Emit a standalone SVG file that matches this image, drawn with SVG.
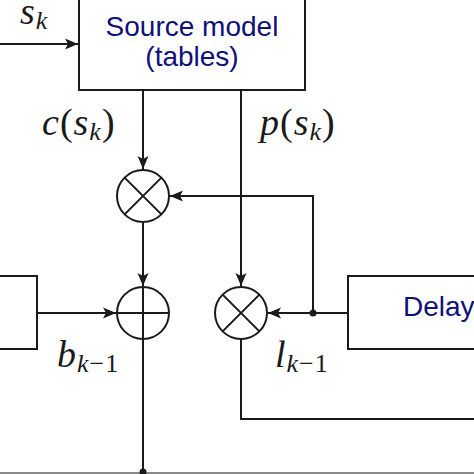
<svg xmlns="http://www.w3.org/2000/svg" width="474" height="474" viewBox="0 0 474 474">
<style>
.ln{fill:none;stroke:#1a1a1a;stroke-width:2}
.nd{fill:#fff;stroke:#1a1a1a;stroke-width:2}
.lbl{font-family:"Liberation Sans","DejaVu Sans",sans-serif;font-size:28px;fill:#10107a}
.m{font-family:"Liberation Serif","DejaVu Serif",serif;font-style:italic;font-size:38px;fill:#1a1a1a;letter-spacing:1px}
.s{font-size:26px}
.up{font-style:normal}
</style>
<defs>
<marker id="ah" markerUnits="userSpaceOnUse" markerWidth="15" markerHeight="12" viewBox="-14 -6 15 12" refX="0" refY="0" orient="auto">
<path d="M0,0 L-13,-5.5 L-10,0 L-13,5.5 Z" fill="#1a1a1a"/>
</marker>
</defs>
<rect width="474" height="474" fill="#fff"/>
<g id="connectors">
<path class="ln" d="M0,44 H78" marker-end="url(#ah)"/>
<path class="ln" d="M143,90 V169" marker-end="url(#ah)"/>
<path class="ln" d="M241,90 V286" marker-end="url(#ah)"/>
<path class="ln" d="M313,313 V196 H170" marker-end="url(#ah)"/>
<path class="ln" d="M348,313 H268" marker-end="url(#ah)"/>
<path class="ln" d="M37,313 H116" marker-end="url(#ah)"/>
<path class="ln" d="M143,223 V286" marker-end="url(#ah)"/>
<path class="ln" d="M143,339 V474"/>
<path class="ln" d="M241,339 V419 H474"/>
<path d="M0,473 H474" stroke="#8a8a8a" stroke-width="2"/>
<circle cx="313" cy="313" r="3.5" fill="#1a1a1a"/>
<circle cx="143" cy="472" r="3.5" fill="#1a1a1a"/>
</g>
<g id="source-model">
<rect class="nd" x="79" y="-10" width="226" height="100"/>
<text class="lbl" x="192" y="36" text-anchor="middle">Source model</text>
<text class="lbl" x="192" y="66" text-anchor="middle">(tables)</text>
</g>
<g id="delay">
<rect class="nd" x="348" y="276" width="140" height="73"/>
<text class="lbl" x="403" y="316">Delay</text>
</g>
<g id="left-box">
<rect class="nd" x="-20" y="276" width="57" height="73"/>
</g>
<g id="mult-top">
<circle class="nd" cx="143" cy="196" r="26"/>
<path class="ln" d="M124.6,177.6 L161.4,214.4 M161.4,177.6 L124.6,214.4"/>
</g>
<g id="adder">
<circle class="nd" cx="143" cy="313" r="26"/>
<path class="ln" d="M143,287 V339 M117,313 H169"/>
</g>
<g id="mult-bottom">
<circle class="nd" cx="241" cy="313" r="26"/>
<path class="ln" d="M222.6,294.6 L259.4,331.4 M259.4,294.6 L222.6,331.4"/>
</g>
<g id="labels">
<text class="m" x="20" y="24">s<tspan class="s" dy="5">k</tspan></text>
<text class="m" x="42" y="135">c<tspan class="up">(</tspan>s<tspan class="s" dy="5">k</tspan><tspan class="up" dy="-5">)</tspan></text>
<text class="m" x="260" y="135">p<tspan class="up">(</tspan>s<tspan class="s" dy="5">k</tspan><tspan class="up" dy="-5">)</tspan></text>
<text class="m" x="57" y="367">b<tspan class="s" dy="5">k<tspan class="up">−1</tspan></tspan></text>
<text class="m" x="275" y="367">l<tspan class="s" dy="5">k<tspan class="up">−1</tspan></tspan></text>
</g>
</svg>
